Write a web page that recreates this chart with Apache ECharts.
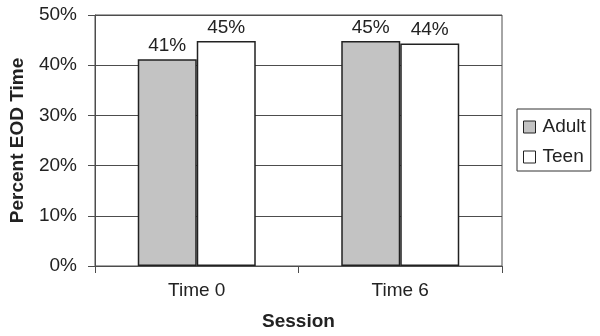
<!DOCTYPE html>
<html>
<head>
<meta charset="utf-8">
<script src="https://cdn.jsdelivr.net/npm/echarts@6/dist/echarts.min.js"></script>
<style>
  html, body { margin: 0; padding: 0; background: #fff; }
  #chart { width: 600px; height: 336px; }
</style>
</head>
<body>
<div id="chart"></div>
<script>
// data
const sessions = ['Time 0', 'Time 6'];
const adultValues = [41.2, 44.8];
const teenValues = [44.8, 44.3];
const yTicks = [0, 10, 20, 30, 40, 50];

const FONT = '"Liberation Sans", Arial, sans-serif';
const LINE = '#4d4d4d';
const TEXT = '#222';
const FS = 19;

const chart = echarts.init(document.getElementById('chart'));

const labelOpt = {
    show: true,
    position: 'top',
    distance: 4,
    color: TEXT,
    fontFamily: FONT,
    fontSize: FS,
    formatter: (p) => Math.round(p.value) + '%',
};

chart.setOption({
    backgroundColor: '#fff',
    animation: false,
    textStyle: { fontFamily: FONT },
    grid: {
        left: 93, right: 98, top: 15, bottom: 70,
        show: true,
        borderColor: LINE,
        borderWidth: 1,
    },
    legend: {
        orient: 'vertical',
        left: 517,
        top: 109,
        itemWidth: 12,
        itemHeight: 12,
        itemGap: 10,
        padding: [8, 5, 4, 6],
        borderColor: '#333',
        borderWidth: 1,
        icon: 'rect',
        textStyle: { fontFamily: FONT, fontSize: FS, lineHeight: 20, color: TEXT, padding: [0, 0, 0, 2] },
        data: [
            { name: 'Adult', itemStyle: { color: '#c3c3c3', borderColor: TEXT, borderWidth: 1 } },
            { name: 'Teen', itemStyle: { color: '#fff', borderColor: TEXT, borderWidth: 1 } },
        ],
    },
    xAxis: {
        type: 'category',
        data: sessions,
        name: 'Session',
        nameLocation: 'middle',
        nameGap: 46,
        nameTextStyle: { fontFamily: FONT, fontSize: FS, fontWeight: 'bold', color: TEXT },
        axisLine: { lineStyle: { color: LINE, width: 1 } },
        axisTick: { show: true, length: 7, lineStyle: { color: LINE } },
        axisLabel: { color: TEXT, fontSize: FS, fontFamily: FONT, margin: 15 },
    },
    yAxis: {
        type: 'value',
        min: yTicks[0],
        max: yTicks[yTicks.length - 1],
        interval: 10,
        name: 'Percent EOD Time',
        nameLocation: 'middle',
        nameGap: 68,
        nameTextStyle: { fontFamily: FONT, fontSize: FS, fontWeight: 'bold', color: TEXT },
        axisLine: { show: true, lineStyle: { color: LINE, width: 1 } },
        axisTick: { show: true, length: 7, lineStyle: { color: LINE } },
        axisLabel: { color: TEXT, fontSize: FS, fontFamily: FONT, margin: 18, formatter: '{value}%' },
        splitLine: { lineStyle: { color: LINE, width: 1 } },
    },
    series: [
        {
            name: 'Adult',
            type: 'bar',
            data: adultValues,
            barWidth: 59,
            barGap: '0%',
            itemStyle: { color: '#c3c3c3', borderColor: TEXT, borderWidth: 1.5 },
            label: labelOpt,
        },
        {
            name: 'Teen',
            type: 'bar',
            data: teenValues,
            barWidth: 59,
            itemStyle: { color: '#fff', borderColor: TEXT, borderWidth: 1.5 },
            label: labelOpt,
        },
    ],
});
</script>
</body>
</html>
